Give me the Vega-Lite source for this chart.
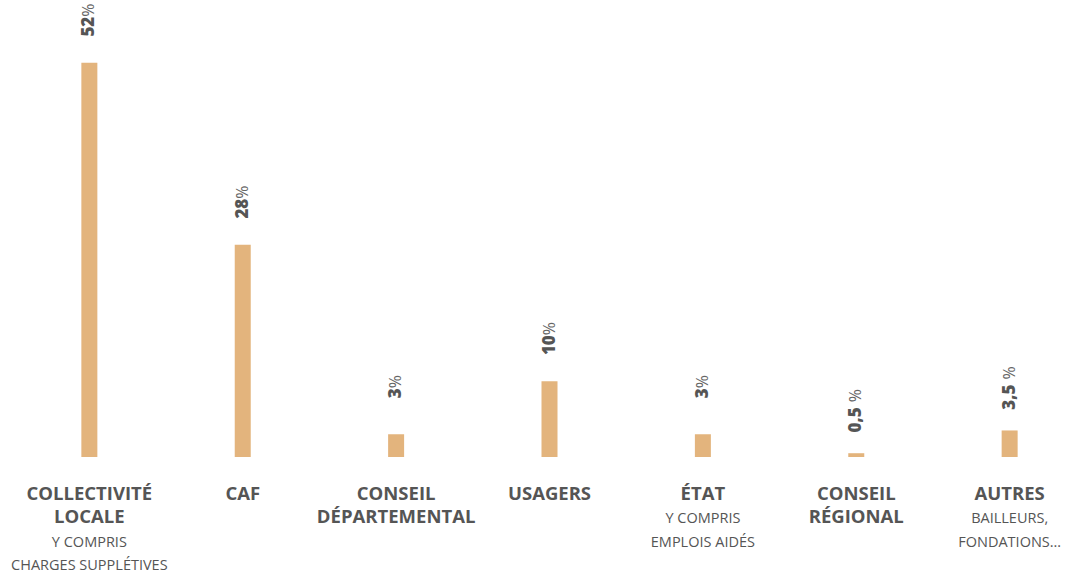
{
  "$schema": "https://vega.github.io/schema/vega-lite/v6.json",
  "width": 1043,
  "height": 455,
  "autosize": {"type": "none"},
  "padding": {"left": 28, "top": 2, "right": 0, "bottom": 118},
  "background": "white",
  "config": {"view": {"stroke": null}, "font": "Open Sans"},
  "data": {
    "values": [
      {"cat": "COLLECTIVITÉ|LOCALE", "sub": "Y COMPRIS|CHARGES SUPPLÉTIVES", "value": 52, "num": "52", "unit": "%"},
      {"cat": "CAF", "sub": "", "value": 28, "num": "28", "unit": "%"},
      {"cat": "CONSEIL|DÉPARTEMENTAL", "sub": "", "value": 3, "num": "3", "unit": "%"},
      {"cat": "USAGERS", "sub": "", "value": 10, "num": "10", "unit": "%"},
      {"cat": "ÉTAT", "sub": "Y COMPRIS|EMPLOIS AIDÉS", "value": 3, "num": "3", "unit": "%"},
      {"cat": "CONSEIL|RÉGIONAL", "sub": "", "value": 0.5, "num": "0,5", "unit": "%"},
      {"cat": "AUTRES", "sub": "BAILLEURS,|FONDATIONS…", "value": 3.5, "num": "3,5", "unit": "%"}
    ]
  },
  "encoding": {
    "x": {"field": "cat", "type": "nominal", "sort": null, "scale": {"type": "point", "padding": 0.4}, "axis": null}
  },
  "layer": [
    {
      "mark": {"type": "bar", "size": 16, "color": "#E3B47D"},
      "encoding": {"y": {"field": "value", "type": "quantitative", "scale": {"domain": [0, 60]}, "axis": null}}
    },
    {
      "mark": {"type": "text", "angle": 270, "align": "right", "baseline": "middle", "dx": 46, "fontSize": 17, "fontWeight": 800, "color": "#555555"},
      "encoding": {"y": {"field": "value", "type": "quantitative"}, "text": {"field": "num"}}
    },
    {
      "mark": {"type": "text", "angle": 270, "align": "left", "baseline": "middle", "dx": {"expr": "indexof(datum.num, ',') >= 0 ? 51 : 46"}, "fontSize": 16, "fontWeight": "normal", "color": "#666666"},
      "encoding": {"y": {"field": "value", "type": "quantitative"}, "text": {"field": "unit"}}
    },
    {
      "mark": {"type": "text", "baseline": "alphabetic", "lineBreak": "|", "fontSize": 18.5, "fontWeight": "bold", "color": "#555555", "dy": 42.5, "lineHeight": 23.5},
      "encoding": {"y": {"datum": 0, "type": "quantitative"}, "text": {"field": "cat"}}
    },
    {
      "mark": {"type": "text", "baseline": "alphabetic", "lineBreak": "|", "fontSize": 14.5, "color": "#555555", "dy": {"expr": "42.5 + 23.5*length(split(datum.cat, '|'))"}, "lineHeight": 23.5},
      "encoding": {"y": {"datum": 0, "type": "quantitative"}, "text": {"field": "sub"}}
    }
  ]
}
